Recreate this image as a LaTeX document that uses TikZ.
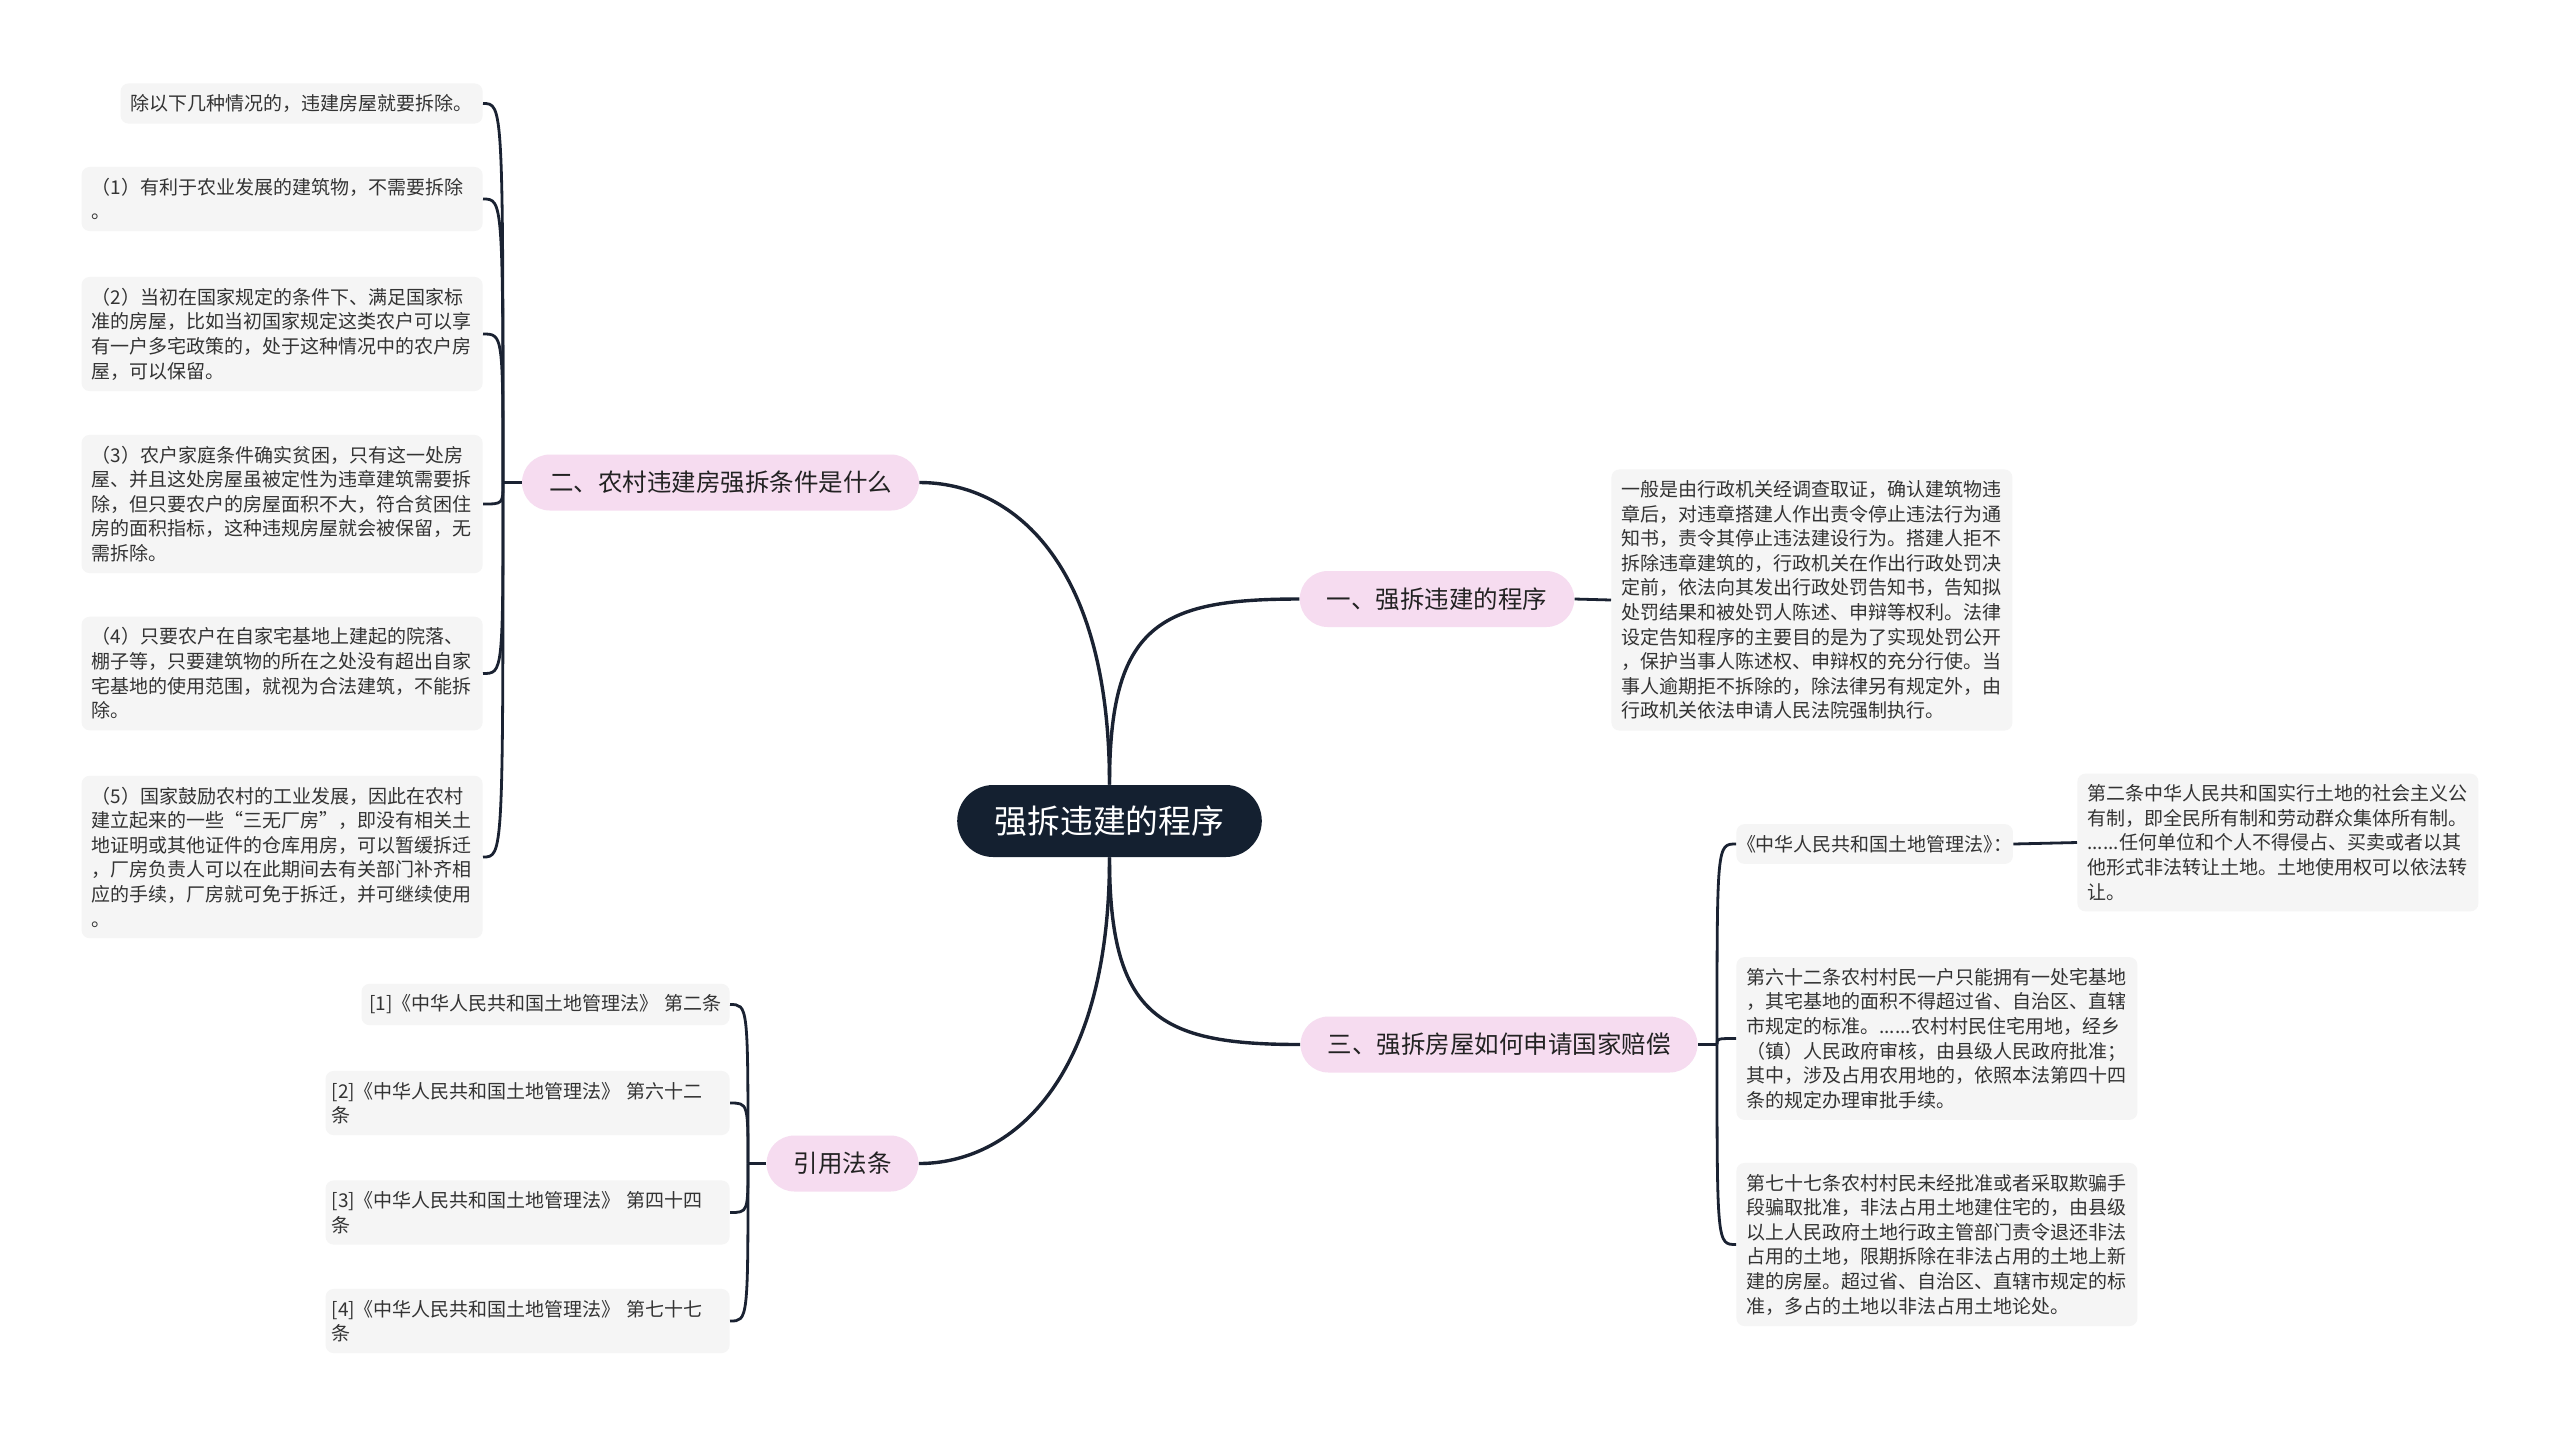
\documentclass[tikz,border=0pt]{standalone}
\usepackage{fontspec}
\setmainfont{Noto Sans CJK SC}
\newfontfamily\cjkp[RawFeature=+palt]{Noto Sans CJK SC}
\definecolor{navy}{HTML}{142030}
\definecolor{linecol}{HTML}{1A2232}
\definecolor{pinkbg}{HTML}{F6DCF0}
\definecolor{leafbg}{HTML}{F5F5F5}
\definecolor{leaftxt}{HTML}{333333}
\definecolor{branchtxt}{HTML}{222222}
\begin{document}
\begin{tikzpicture}[x=0.5pt,y=-0.5pt,
  leaf/.style={fill=leafbg, rounded corners=4pt, inner xsep=5pt, inner ysep=5.5pt, font=\fontsize{9.5}{12.3}\selectfont, text=leaftxt, align=left},
  wide/.style={text width=190.5pt},
  cwide/.style={text width=196pt, inner xsep=3pt},
  pfont/.style={font=\cjkp\fontsize{9.5}{12.3}\selectfont},
  branch/.style={fill=pinkbg, rounded corners=14pt, minimum height=28pt, inner xsep=13.5pt, inner ysep=0pt, font=\fontsize{12.25}{14}\selectfont, text=branchtxt},
  root/.style={fill=navy, rounded corners=18pt, minimum height=36pt, inner xsep=18.75pt, inner ysep=0pt, font=\fontsize{16.4}{18}\selectfont, text=white},
  link/.style={draw=linecol, line width=1.7pt},
  sublink/.style={draw=linecol, line width=1.4pt}]
\fill[white] (0,0) rectangle (2560,1437);
\useasboundingbox (0,0) rectangle (2560,1437);

% root and branches
\node[root] (root) at (1109.5,821) {强拆违建的程序};
\node[branch] (b1) at (1437,599) {一、强拆违建的程序};
\node[branch] (b2) at (720.5,482.5) {二、农村违建房强拆条件是什么};
\node[branch] (b3) at (1499,1044.5) {三、强拆房屋如何申请国家赔偿};
\node[branch] (b4) at (842.5,1163.5) {引用法条};

\draw[link] (root.north) .. controls +(0,-160) and +(-140,0) .. (b1.west);
\draw[link] (root.north) .. controls +(0,-225) and +(91,0) .. (b2.east);
\draw[link] (root.south) .. controls +(0,160) and +(-140,0) .. (b3.west);
\draw[link] (root.south) .. controls +(0,225) and +(91,0) .. (b4.east);

% branch 1
\node[leaf,wide,anchor=west] (a1) at (1611,600) {一般是由行政机关经调查取证，确认建筑物违\\章后，对违章搭建人作出责令停止违法行为通\\知书，责令其停止违法建设行为。搭建人拒不\\拆除违章建筑的，行政机关在作出行政处罚决\\定前，依法向其发出行政处罚告知书，告知拟\\处罚结果和被处罚人陈述、申辩等权利。法律\\设定告知程序的主要目的是为了实现处罚公开\\，保护当事人陈述权、申辩权的充分行使。当\\事人逾期拒不拆除的，除法律另有规定外，由\\行政机关依法申请人民法院强制执行。};
\draw[sublink] (b1.east) -- (a1.west);

% branch 2
\node[leaf,anchor=east] (l0) at (483,103.5) {除以下几种情况的，违建房屋就要拆除。};
\node[leaf,wide,anchor=east] (l1) at (483,199) {（1）有利于农业发展的建筑物，不需要拆除\\。};
\node[leaf,wide,anchor=east] (l2) at (483,334) {（2）当初在国家规定的条件下、满足国家标\\准的房屋，比如当初国家规定这类农户可以享\\有一户多宅政策的，处于这种情况中的农户房\\屋，可以保留。};
\node[leaf,wide,anchor=east] (l3) at (483,504) {（3）农户家庭条件确实贫困，只有这一处房\\屋、并且这处房屋虽被定性为违章建筑需要拆\\除，但只要农户的房屋面积不大，符合贫困住\\房的面积指标，这种违规房屋就会被保留，无\\需拆除。};
\node[leaf,wide,anchor=east] (l4) at (483,673.5) {（4）只要农户在自家宅基地上建起的院落、\\棚子等，只要建筑物的所在之处没有超出自家\\宅基地的使用范围，就视为合法建筑，不能拆\\除。};
\node[leaf,wide,anchor=east] (l5) at (483,857) {（5）国家鼓励农村的工业发展，因此在农村\\建立起来的一些“三无厂房”，即没有相关土\\地证明或其他证件的仓库用房，可以暂缓拆迁\\，厂房负责人可以在此期间去有关部门补齐相\\应的手续，厂房就可免于拆迁，并可继续使用\\。};
\coordinate (j2) at (503,482.5);
\draw[sublink] (b2.west) -- (j2);
\foreach \n in {l0,l1,l2,l3,l4,l5}
  \draw[sublink] (j2) .. controls (j2 |- \n.east) and (j2 |- \n.east) .. (\n.east);

% branch 3
\node[leaf,pfont,anchor=west] (r1) at (1736,844) {《中华人民共和国土地管理法》：};
\node[leaf,wide,anchor=west] (r1c) at (2077,842.5) {第二条中华人民共和国实行土地的社会主义公\\有制，即全民所有制和劳动群众集体所有制。\\......任何单位和个人不得侵占、买卖或者以其\\他形式非法转让土地。土地使用权可以依法转\\让。};
\node[leaf,wide,anchor=west] (r2) at (1736,1038.5) {第六十二条农村村民一户只能拥有一处宅基地\\，其宅基地的面积不得超过省、自治区、直辖\\市规定的标准。......农村村民住宅用地，经乡\\（镇）人民政府审核，由县级人民政府批准；\\其中，涉及占用农用地的，依照本法第四十四\\条的规定办理审批手续。};
\node[leaf,wide,anchor=west] (r3) at (1736,1244.5) {第七十七条农村村民未经批准或者采取欺骗手\\段骗取批准，非法占用土地建住宅的，由县级\\以上人民政府土地行政主管部门责令退还非法\\占用的土地，限期拆除在非法占用的土地上新\\建的房屋。超过省、自治区、直辖市规定的标\\准，多占的土地以非法占用土地论处。};
\draw[sublink] (r1.east) -- (r1c.west);
\coordinate (j3) at (1717,1044.5);
\draw[sublink] (b3.east) -- (j3);
\foreach \n in {r1,r2,r3}
  \draw[sublink] (j3) .. controls (j3 |- \n.west) and (j3 |- \n.west) .. (\n.west);

% branch 4
\node[leaf,anchor=east,inner xsep=4pt] (c1) at (730,1004.5) {[1]《中华人民共和国土地管理法》\hspace{0.3em}第二条};
\node[leaf,cwide,anchor=east] (c2) at (730,1103) {[2]《中华人民共和国土地管理法》\hspace{0.3em}第六十二\\条};
\node[leaf,cwide,anchor=east] (c3) at (730,1212.5) {[3]《中华人民共和国土地管理法》\hspace{0.3em}第四十四\\条};
\node[leaf,cwide,anchor=east] (c4) at (730,1321) {[4]《中华人民共和国土地管理法》\hspace{0.3em}第七十七\\条};
\coordinate (j4) at (748,1163.5);
\draw[sublink] (b4.west) -- (j4);
\foreach \n in {c1,c2,c3,c4}
  \draw[sublink] (j4) .. controls (j4 |- \n.east) and (j4 |- \n.east) .. (\n.east);
\end{tikzpicture}
\end{document}
